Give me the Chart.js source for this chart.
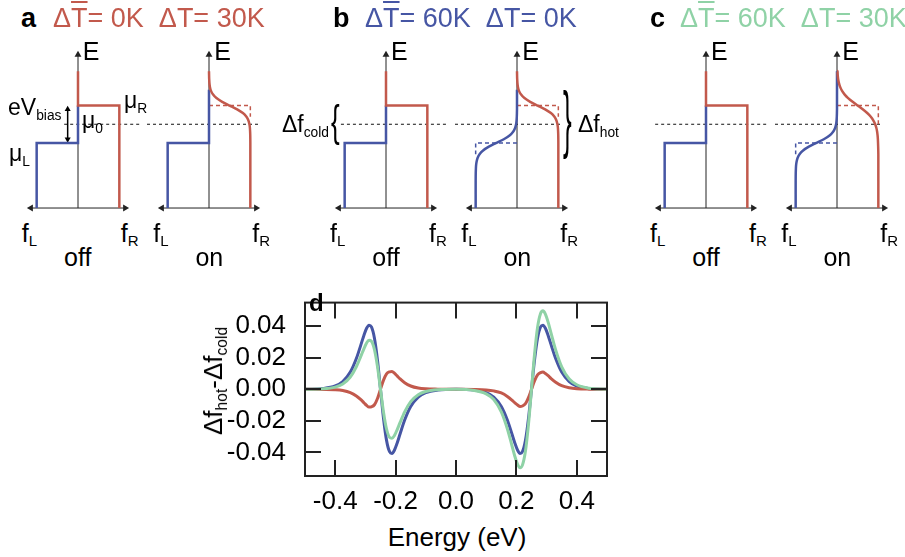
<!DOCTYPE html>
<html>
<head>
<meta charset="UTF-8">
<script src="https://cdn.jsdelivr.net/npm/chart.js"></script>
<title>Delta f hot - cold</title>
<style>
  body { margin: 0; background: #fff; }
  #fig { position: relative; width: 905px; height: 557px; overflow: hidden; background: #fff;
         font-family: "Liberation Sans", Arial, Helvetica, sans-serif; color: #000; }
  #fig canvas { position: absolute; }
  .t { position: absolute; white-space: nowrap; line-height: 1; }
  .s { font-size: 0.6em; position: relative; top: 0.3em; }
  .ob { text-decoration: overline; text-decoration-thickness: 2px; }
</style>
</head>
<body>
<div id="fig">
  <canvas id="chartD" width="430" height="236" style="left:190px; top:276px;"></canvas>
</div>

<script>
  // ---- panel d : energy grid and the three difference curves ----
  var energy = [-0.5, -0.44, -0.4, -0.375, -0.35, -0.33, -0.315, -0.305, -0.296, -0.288,
    -0.28, -0.27, -0.26, -0.25, -0.24, -0.23, -0.22, -0.212, -0.204, -0.195,
    -0.185, -0.17, -0.15, -0.125, -0.1, -0.06, 0,
    0.06, 0.1, 0.125, 0.15, 0.17, 0.185, 0.195, 0.204, 0.212, 0.22,
    0.23, 0.24, 0.25, 0.26, 0.27, 0.28, 0.288, 0.296, 0.305, 0.315,
    0.33, 0.35, 0.375, 0.4, 0.44, 0.5];

  // dT_mean = 60K, dT = 0K
  var dfMean = [0, 0.0005, 0.0021, 0.0049, 0.0109, 0.0195, 0.0282, 0.0342, 0.0387, 0.0407,
    0.0396, 0.0324, 0.0185, 0, -0.0185, -0.0324, -0.0396, -0.0407, -0.0387, -0.0342,
    -0.0282, -0.0195, -0.0109, -0.0049, -0.0021, -0.0005, 0,
    -0.0005, -0.0021, -0.0049, -0.0109, -0.0195, -0.0282, -0.0342, -0.0387, -0.0407, -0.0396,
    -0.0324, -0.0185, 0, 0.0185, 0.0324, 0.0396, 0.0407, 0.0387, 0.0342, 0.0282,
    0.0195, 0.0109, 0.0049, 0.0021, 0.0005, 0];

  // dT_mean = 0K, dT = 30K
  var dfDelta = [0, -0.0001, -0.0003, -0.0008, -0.0021, -0.0042, -0.0066, -0.0085, -0.0102, -0.0113,
    -0.0111, -0.0098, -0.0058, 0, 0.0058, 0.0098, 0.0111, 0.0113, 0.0102, 0.0085,
    0.0066, 0.0042, 0.0021, 0.0008, 0.0003, 0.0001, 0,
    -0.0001, -0.0004, -0.001, -0.0023, -0.0045, -0.0068, -0.0086, -0.01, -0.0109, -0.0106,
    -0.0091, -0.0053, 0, 0.0053, 0.0091, 0.0106, 0.0109, 0.01, 0.0086, 0.0068,
    0.0045, 0.0023, 0.001, 0.0004, 0.0001, 0];

  // dT_mean = 60K, dT = 30K
  var dfBoth = [0, 0.0003, 0.0014, 0.0034, 0.0078, 0.0143, 0.021, 0.0257, 0.0294, 0.0311,
    0.0305, 0.0252, 0.0145, 0, -0.0145, -0.0252, -0.0305, -0.0311, -0.0294, -0.0257,
    -0.021, -0.0143, -0.0078, -0.0034, -0.0014, -0.0003, 0,
    -0.0007, -0.0029, -0.0065, -0.0143, -0.025, -0.0355, -0.0426, -0.0477, -0.0498, -0.0481,
    -0.0392, -0.0222, 0, 0.0222, 0.0392, 0.0481, 0.0498, 0.0477, 0.0426, 0.0355,
    0.025, 0.0143, 0.0065, 0.0029, 0.0007, 0];

  var xTickValues = [-0.4, -0.2, 0, 0.2, 0.4];
  var yTickValues = [-0.04, -0.02, 0, 0.02, 0.04];

  // ---- sketches a-c : levels and Fermi occupations ----
  var eTop = 0.71, eBottom = -1.12, muR = 0.25, mu0 = 0, muL = -0.25;
  var eAxisTip = 0.93, fAxisTip = 1.14;

  // occupation vs distance from the chemical potential (warm and hot contact)
  var warmOffset = [0.46, 0.4, 0.35, 0.3, 0.25, 0.2, 0.15, 0.1, 0.05, 0, -0.05, -0.1, -0.15, -0.2, -0.25, -0.3, -0.35, -0.4, -0.5];
  var warmOcc = [0, 0.002, 0.005, 0.0105, 0.022, 0.046, 0.094, 0.18, 0.319, 0.5, 0.681, 0.82, 0.906, 0.954, 0.978, 0.99, 0.995, 0.998, 1];
  var hotOffset = [0.46, 0.4, 0.35, 0.3, 0.25, 0.2, 0.15, 0.1, 0.05, 0, -0.05, -0.1, -0.15, -0.2, -0.25, -0.3, -0.35, -0.4, -0.45, -0.55, -0.65];
  var hotOcc = [0.01, 0.018, 0.029, 0.047, 0.076, 0.119, 0.182, 0.269, 0.378, 0.5, 0.622, 0.731, 0.818, 0.881, 0.924, 0.953, 0.971, 0.982, 0.989, 0.996, 1];

  var BLUE = '#4656a4';
  var RED = '#c2594c';
  var GREEN = '#8fd2a6';
  var FONT = '"Liberation Sans", Arial, Helvetica, sans-serif';
  Chart.defaults.font.family = FONT;

  var fig = document.getElementById('fig');

  function put(html, x, base, size, align, extra) {
    var d = document.createElement('div');
    d.className = 't';
    d.innerHTML = html;
    d.style.fontSize = size + 'px';
    d.style.top = (base - 0.85 * size) + 'px';
    if (align === 'center') {
      d.style.left = x + 'px';
      d.style.transform = 'translateX(-50%)';
    } else if (align === 'right') {
      d.style.right = (905 - x) + 'px';
    } else {
      d.style.left = x + 'px';
    }
    if (extra) Object.assign(d.style, extra);
    fig.appendChild(d);
    return d;
  }

  function brace(ch, x, cy, h) {
    var size = 26;
    var mid = 0.5865 * size;
    var d = put(ch, x, cy - mid + 0.85 * size, size, 'left');
    d.style.transformOrigin = '0 ' + mid + 'px';
    d.style.transform = 'scaleY(' + (h / (0.94 * size)).toFixed(3) + ')';
  }

  // point lists for the sketches
  function blueStep(top) {
    return [{x: -1, y: eBottom}, {x: -1, y: muL}, {x: 0, y: muL}, {x: 0, y: top}];
  }
  function redStep() {
    return [{x: 0, y: eTop}, {x: 0, y: muR}, {x: 1, y: muR}, {x: 1, y: eBottom}];
  }
  function redCurve(offs, occ) {
    var p = [{x: 0, y: eTop}];
    for (var i = 0; i < offs.length; i++) p.push({x: occ[i], y: muR + offs[i]});
    p.push({x: 1, y: eBottom});
    return p;
  }
  function blueCurve(offs, occ, top) {
    var p = [{x: -1, y: eBottom}];
    for (var i = offs.length - 1; i >= 0; i--) p.push({x: -occ[i], y: muL + offs[i]});
    p.push({x: 0, y: top});
    return p;
  }

  function line(pts, color, width, extra) {
    return Object.assign({
      data: pts, showLine: true, borderColor: color, borderWidth: width,
      pointRadius: 0, tension: 0, borderJoinStyle: 'miter', order: 2
    }, extra || {});
  }

  function axes() {
    return [
      line([{x: 0, y: eBottom}, {x: 0, y: eAxisTip}], '#222', 1, {
        pointStyle: 'triangle', pointRadius: [0, 4], pointRotation: [0, 0],
        pointBackgroundColor: '#222', pointBorderWidth: 0, order: 6
      }),
      line([{x: -fAxisTip, y: eBottom}, {x: fAxisTip, y: eBottom}], '#222', 1, {
        pointStyle: 'triangle', pointRadius: [4, 4], pointRotation: [-90, 90],
        pointBackgroundColor: '#222', pointBorderWidth: 0, order: 6
      })
    ];
  }

  function muLine(from, to) {
    return line([{x: from, y: mu0}, {x: to, y: mu0}], '#111', 1, {borderDash: [3, 3], order: 5});
  }

  function sketch(axisX, sets) {
    var cv = document.createElement('canvas');
    cv.width = 132;
    cv.height = 180;
    cv.style.left = (axisX - 66) + 'px';
    cv.style.top = '38px';
    fig.appendChild(cv);
    new Chart(cv, {
      type: 'scatter',
      data: {datasets: sets},
      options: {
        responsive: false, animation: false, events: [],
        layout: {padding: 0},
        scales: {
          x: {display: false, min: -1.5, max: 1.5},
          y: {display: false, min: -1.2, max: 1.1}
        },
        plugins: {legend: {display: false}, tooltip: {enabled: false}}
      }
    });
  }

  var refRed = function (end) {
    return line([{x: 0, y: muR}, {x: 1, y: muR}, {x: 1, y: end}], RED, 1.5, {borderDash: [4, 3], order: 4});
  };
  var refBlue = line([{x: 0, y: muL}, {x: -1, y: muL}, {x: -1, y: -0.4}], BLUE, 1.5, {borderDash: [4, 3], order: 4});

  // a
  sketch(77.7, axes().concat([
    muLine(-0.334, 1.5),
    line([{x: -0.25, y: muR - 0.05}, {x: -0.25, y: muL + 0.05}], '#000', 1.5, {
      pointStyle: 'triangle', pointRadius: [3.5, 3.5], pointRotation: [0, 180],
      pointBackgroundColor: '#000', pointBorderWidth: 0, order: 3
    }),
    line(blueStep(muR), BLUE, 2.5),
    line(redStep(), RED, 2.5, {order: 1})
  ]));
  sketch(209.3, axes().concat([
    muLine(-1.5, 1.22),
    refRed(0.1),
    line(blueStep(0.46), BLUE, 2.5),
    line(redCurve(warmOffset, warmOcc), RED, 2.5, {order: 1, tension: 0.25})
  ]));

  // b
  sketch(386, axes().concat([
    muLine(-1.09, 1.5),
    line(blueStep(muR), BLUE, 2.5),
    line(redStep(), RED, 2.5, {order: 1})
  ]));
  sketch(517.3, axes().concat([
    muLine(-1.5, 1.08),
    refRed(0.1), refBlue,
    line(blueCurve(warmOffset, warmOcc, 0.46), BLUE, 2.5, {tension: 0.25}),
    line(redCurve(warmOffset, warmOcc), RED, 2.5, {order: 1, tension: 0.25})
  ]));

  // c
  sketch(706, axes().concat([
    muLine(-1.23, 1.5),
    line(blueStep(muR), BLUE, 2.5),
    line(redStep(), RED, 2.5, {order: 1})
  ]));
  sketch(837.3, axes().concat([
    muLine(-1.5, 1.06),
    refRed(0.0), refBlue,
    line(blueCurve(warmOffset, warmOcc, eTop), BLUE, 2.5, {tension: 0.25}),
    line(redCurve(hotOffset, hotOcc), RED, 2.5, {order: 1, tension: 0.25})
  ]));

  // sketch labels
  var heads = [
    {letter: 'a', x: 21, tx: 53, color: RED, mean: '0', diff: '30', off: 77.7, on: 209.3},
    {letter: 'b', x: 333, tx: 365, color: BLUE, mean: '60', diff: '0', off: 386, on: 517.3},
    {letter: 'c', x: 650, tx: 680, color: GREEN, mean: '60', diff: '30', off: 706, on: 837.3}
  ];
  heads.forEach(function (h) {
    put(h.letter, h.x, 28, 27, 'left', {fontWeight: 'bold'});
    put('Δ<span class="ob">T</span>= ' + h.mean + 'K&nbsp;&nbsp;ΔT= ' + h.diff + 'K', h.tx, 28, 27, 'left', {color: h.color});
    [h.off, h.on].forEach(function (ax, k) {
      put('E', ax + 5, 60, 25, 'left');
      put('f<span class="s">L</span>', ax - 56, 242, 25, 'left');
      put('f<span class="s">R</span>', ax + 43, 242, 25, 'left');
      put(k === 0 ? 'off' : 'on', ax, 266, 25, 'center');
    });
  });
  put('eV<span class="s">bias</span>', 8, 116, 23, 'left');
  put('μ<span class="s">0</span>', 82, 129, 23, 'left');
  put('μ<span class="s">R</span>', 124, 109, 23, 'left');
  put('μ<span class="s">L</span>', 9, 162, 23, 'left');
  put('Δf<span class="s">cold</span>', 329, 133, 23, 'right');
  put('Δf<span class="s">hot</span>', 578, 133, 23, 'left');
  brace('{', 331, 124, 42);
  brace('}', 563, 124, 70);

  // ---- panel d ----
  function toXY(xs, ys) {
    return xs.map(function (x, i) { return {x: x, y: ys[i]}; });
  }

  var frameTicks = {
    id: 'frameTicks',
    afterDatasetsDraw: function (chart) {
      var ctx = chart.ctx, a = chart.chartArea, sx = chart.scales.x, sy = chart.scales.y;
      var len = 16;
      ctx.save();
      ctx.strokeStyle = '#222';
      ctx.lineWidth = 2;
      ctx.beginPath();
      sx.ticks.forEach(function (t) {
        var px = Math.round(sx.getPixelForValue(t.value));
        ctx.moveTo(px, a.bottom); ctx.lineTo(px, a.bottom - len);
        ctx.moveTo(px, a.top); ctx.lineTo(px, a.top + len);
      });
      sy.ticks.forEach(function (t) {
        var py = Math.round(sy.getPixelForValue(t.value));
        ctx.moveTo(a.left, py); ctx.lineTo(a.left + len, py);
        ctx.moveTo(a.right, py); ctx.lineTo(a.right - len, py);
      });
      ctx.stroke();
      ctx.strokeRect(a.left, a.top, a.right - a.left, a.bottom - a.top);
      ctx.restore();
    }
  };

  new Chart(document.getElementById('chartD'), {
    type: 'line',
    data: {
      datasets: [
        {label: 'dT_mean 60K, dT 30K', data: toXY(energy, dfBoth), borderColor: GREEN, order: 0},
        {label: 'dT_mean 0K, dT 30K', data: toXY(energy, dfDelta), borderColor: RED, order: 1},
        {label: 'dT_mean 60K, dT 0K', data: toXY(energy, dfMean), borderColor: BLUE, order: 2}
      ]
    },
    options: {
      responsive: false, animation: false, events: [],
      layout: {padding: {top: 10, right: 13, left: 0, bottom: 0}},
      elements: {
        point: {radius: 0},
        line: {borderWidth: 3, cubicInterpolationMode: 'monotone', fill: false}
      },
      scales: {
        x: {
          type: 'linear', min: -0.5, max: 0.5,
          grid: {display: false}, border: {display: false},
          afterBuildTicks: function (s) {
            s.ticks = xTickValues.map(function (v) { return {value: v}; });
          },
          ticks: {
            padding: 2, color: '#000', maxRotation: 0, autoSkip: false, font: {size: 26},
            callback: function (v) { return Math.abs(v) < 1e-9 ? '0.0' : v.toFixed(1); }
          },
          afterFit: function (s) { s.height = 36; }
        },
        y: {
          type: 'linear', min: -0.055, max: 0.055,
          grid: {display: false}, border: {display: false},
          afterBuildTicks: function (s) {
            s.ticks = yTickValues.map(function (v) { return {value: v}; });
          },
          ticks: {
            padding: 11, color: '#000', autoSkip: false, font: {size: 26},
            callback: function (v) { return Math.abs(v) < 1e-9 ? '0.00' : v.toFixed(2); }
          },
          afterFit: function (s) { s.width = 115; }
        }
      },
      plugins: {legend: {display: false}, tooltip: {enabled: false}}
    },
    plugins: [frameTicks]
  });

  put('d', 309, 311, 24, 'left', {fontWeight: 'bold'});
  put('Energy (eV)', 457, 546, 26, 'center');
  var yt = put('Δf<span class="s">hot</span>-Δf<span class="s">cold</span>', 213, 381, 26, 'left');
  yt.style.top = '381px';
  yt.style.transform = 'translate(-50%, -50%) rotate(-90deg)';
</script>
</body>
</html>
